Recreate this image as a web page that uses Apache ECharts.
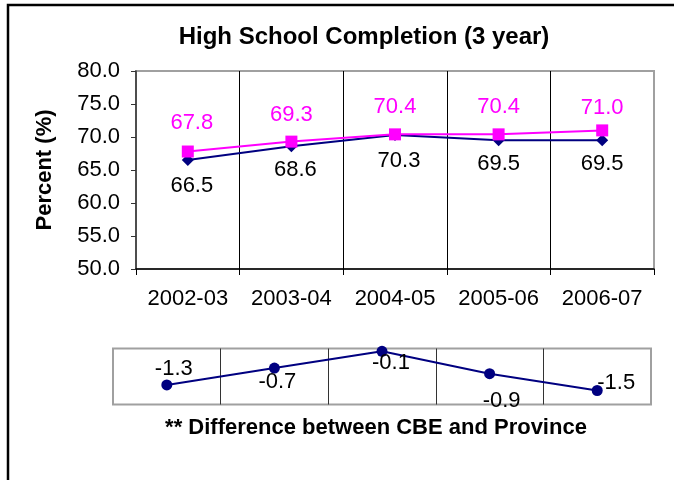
<!DOCTYPE html>
<html>
<head>
<meta charset="utf-8">
<script src="https://cdn.jsdelivr.net/npm/echarts@6/dist/echarts.min.js"></script>
<style>
  html, body { margin: 0; padding: 0; background: #fff; overflow: hidden; }
</style>
</head>
<body>
<div id="main" style="width: 674px; height: 480px;"></div>
<script>
// data
const years = ['2002-03', '2003-04', '2004-05', '2005-06', '2006-07']
const province = [67.8, 69.3, 70.4, 70.4, 71.0]
const cbe = [66.5, 68.6, 70.3, 69.5, 69.5]
const diff = [-1.3, -0.7, -0.1, -0.9, -1.5]
const yTicks = { min: 50, max: 80, step: 5 }

// where each label sits relative to its point (styling only)
const provNudge = [[4, -29], [0, -27], [0, -27], [0, -27], [0, -22]]
const cbeNudge = [[4, 26], [4, 24], [4, 26], [0, 24], [0, 24]]
const diffNudge = [[7, -16], [3, 14], [9, 12], [12, 27], [19, -8]]

const FONT = 'Arial, "Liberation Sans", sans-serif'

const withLabels = (vals, nudge, color) => vals.map((v, i) => ({
  value: v,
  label: { offset: nudge[i], color: color }
}))

const myChart = echarts.init(document.getElementById('main'))
myChart.setOption({
  animation: false,
  textStyle: { fontFamily: FONT },
  graphic: [
    {
      type: 'rect',
      shape: { x: 8, y: 5, width: 1200, height: 1200 },
      style: { fill: 'none', stroke: '#000', lineWidth: 2.5 },
      z: 100
    },
    {
      type: 'text', x: 364, y: 37,
      style: {
        text: 'High School Completion (3 year)',
        align: 'center', verticalAlign: 'middle',
        font: 'bold 24px ' + FONT, fill: '#000'
      }
    },
    {
      type: 'text', x: 376, y: 428,
      style: {
        text: '** Difference between CBE and Province',
        align: 'center', verticalAlign: 'middle',
        font: 'bold 22px ' + FONT, fill: '#000'
      }
    }
  ],
  grid: [
    { left: 136, top: 71, width: 518, height: 198, show: true, borderColor: '#a0a0a0', borderWidth: 2 },
    { left: 113, top: 348.5, width: 538, height: 56, show: true, borderColor: '#a0a0a0', borderWidth: 2 }
  ],
  xAxis: [
    {
      gridIndex: 0,
      type: 'category',
      data: years,
      boundaryGap: true,
      axisLine: { lineStyle: { color: '#000', width: 1.5 } },
      axisTick: { show: true, interval: 0, length: 6, lineStyle: { color: '#000' } },
      axisLabel: { interval: 0, color: '#000', fontSize: 22, margin: 19, fontFamily: FONT },
      splitLine: { show: true, interval: 0, showMinLine: false, showMaxLine: false, lineStyle: { color: '#000', width: 1 } }
    },
    {
      gridIndex: 1,
      type: 'category',
      data: years,
      boundaryGap: true,
      axisLine: { show: false },
      axisTick: { show: false, interval: 0 },
      axisLabel: { show: false, interval: 0 },
      splitLine: { show: true, interval: 0, showMinLine: false, showMaxLine: false, lineStyle: { color: '#333', width: 1 } }
    }
  ],
  yAxis: [
    {
      gridIndex: 0,
      type: 'value',
      min: yTicks.min,
      max: yTicks.max,
      interval: yTicks.step,
      name: 'Percent (%)',
      nameLocation: 'middle',
      nameGap: 80,
      nameRotate: 90,
      nameTextStyle: { color: '#000', fontSize: 22, fontWeight: 'bold', fontFamily: FONT },
      axisLine: { show: true, lineStyle: { color: '#333', width: 1.5 } },
      axisTick: { show: true, length: 5, lineStyle: { color: '#333' } },
      axisLabel: { color: '#000', fontSize: 22, margin: 16, fontFamily: FONT, formatter: v => v.toFixed(1) },
      splitLine: { show: false }
    },
    {
      gridIndex: 1,
      type: 'value',
      min: -2,
      max: 0,
      axisLine: { show: false },
      axisTick: { show: false },
      axisLabel: { show: false },
      splitLine: { show: false }
    }
  ],
  series: [
    {
      name: 'Province',
      type: 'line',
      xAxisIndex: 0, yAxisIndex: 0,
      data: withLabels(province, provNudge, '#ff00ff'),
      symbol: 'rect',
      symbolSize: 12,
      lineStyle: { color: '#ff00ff', width: 2 },
      itemStyle: { color: '#ff00ff' },
      label: { show: true, position: 'inside', fontSize: 22, fontFamily: FONT, formatter: p => p.value.toFixed(1) },
      z: 3
    },
    {
      name: 'CBE',
      type: 'line',
      xAxisIndex: 0, yAxisIndex: 0,
      data: withLabels(cbe, cbeNudge, '#000'),
      symbol: 'diamond',
      symbolSize: 12,
      lineStyle: { color: '#000080', width: 2 },
      itemStyle: { color: '#000080' },
      label: { show: true, position: 'inside', fontSize: 22, fontFamily: FONT, formatter: p => p.value.toFixed(1) },
      z: 2
    },
    {
      name: 'Difference',
      type: 'line',
      xAxisIndex: 1, yAxisIndex: 1,
      data: withLabels(diff, diffNudge, '#000'),
      symbol: 'circle',
      symbolSize: 11,
      lineStyle: { color: '#000080', width: 2 },
      itemStyle: { color: '#000080' },
      label: { show: true, position: 'inside', fontSize: 22, fontFamily: FONT, formatter: p => p.value.toFixed(1) },
      z: 3
    }
  ]
})
</script>
</body>
</html>
